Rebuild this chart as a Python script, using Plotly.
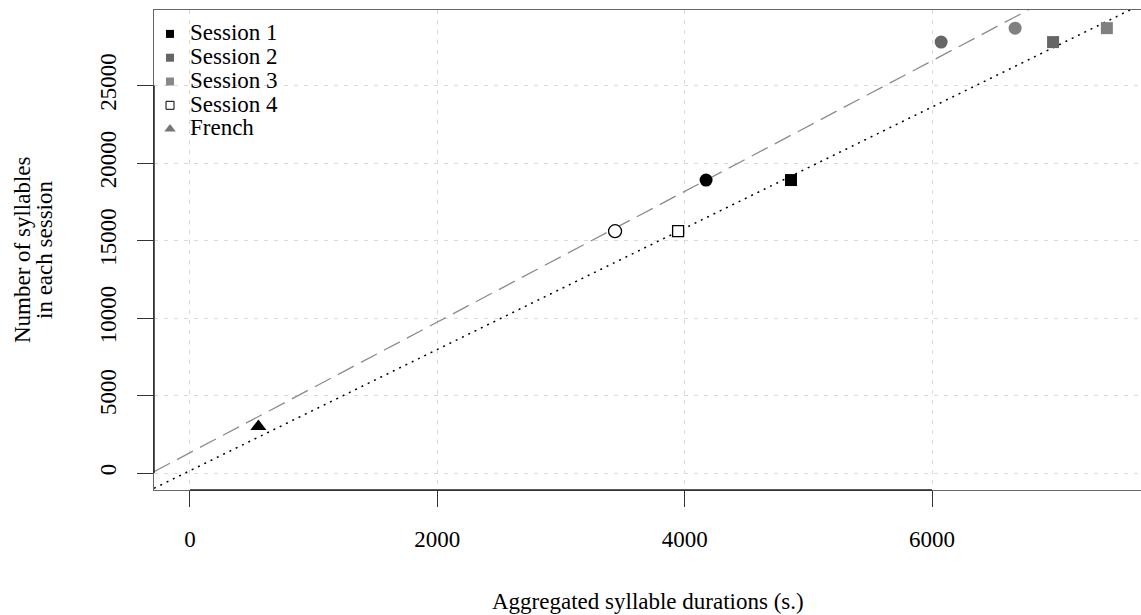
import plotly.graph_objects as go

# ---- data ----
sessions = ["Session 1", "Session 2", "Session 3", "Session 4"]
circle_x = [4173, 6074, 6672, 3437]      # aggregated durations (circles)
square_x = [4860, 6979, 7414, 3947]      # aggregated durations (squares)
syllables = [18900, 27800, 28700, 15600]  # number of syllables per session
french_x = [553]
french_y = [3000]

# fitted lines (intercept, slope)
dashed_fit = (1310, 4.214)
dotted_fit = (150, 3.91)

x_ticks = [0, 2000, 4000, 6000]
y_ticks = [0, 5000, 10000, 15000, 20000, 25000]

x_range = [-291, 7690]
y_range = [-1097, 29871]

# styles
session_fill = ["black", "#666666", "#808080", "white"]
legend_fill = ["black", "#666666", "#888888", "white"]
FONT = "Liberation Serif"

fig = go.Figure()

# fit lines
for (a, b), col, dash, w in [(dashed_fit, "#8c8c8c", "18px,8px", 1.3),
                             (dotted_fit, "black", "2px,5px", 1.5)]:
    fig.add_trace(go.Scatter(
        x=x_range, y=[a + b * x_range[0], a + b * x_range[1]],
        mode="lines", line=dict(color=col, width=w, dash=dash),
        showlegend=False, hoverinfo="skip"))

# data points
for i, s in enumerate(sessions):
    open_marker = session_fill[i] == "white"
    mline = dict(color="black", width=1.3 if open_marker else 0)
    fig.add_trace(go.Scatter(
        x=[circle_x[i]], y=[syllables[i]], mode="markers",
        marker=dict(symbol="circle", size=13, color=session_fill[i], line=mline),
        showlegend=False, name=s))
    fig.add_trace(go.Scatter(
        x=[square_x[i]], y=[syllables[i]], mode="markers",
        marker=dict(symbol="square", size=11 if open_marker else 12,
                    color=session_fill[i], line=mline),
        showlegend=False, name=s))

fig.add_trace(go.Scatter(
    x=french_x, y=french_y, mode="markers",
    marker=dict(symbol="triangle-up", size=14, color="black", line=dict(width=0)),
    showlegend=False, name="French"))

# legend entries
for i, s in enumerate(sessions):
    open_marker = legend_fill[i] == "white"
    fig.add_trace(go.Scatter(
        x=[None], y=[None], mode="markers",
        name=f'<span style="font-size:23px">{s}</span>',
        marker=dict(symbol="square", size=8, color=legend_fill[i],
                    line=dict(color="black", width=1 if open_marker else 0))))
fig.add_trace(go.Scatter(
    x=[None], y=[None], mode="markers",
    name='<span style="font-size:23px">French</span>',
    marker=dict(symbol="triangle-up", size=10, color="#777777", line=dict(width=0))))

axis_common = dict(
    showline=True, mirror=True, linecolor="#666666", linewidth=1.3,
    ticks="outside", ticklen=16, tickcolor="#333333", tickwidth=1.3,
    showgrid=True, gridcolor="#d9d9d9", griddash="4px,6px", gridwidth=1,
    zeroline=False, tickfont=dict(family=FONT, size=23, color="black"),
)

fig.update_layout(
    width=1141, height=615,
    margin=dict(l=154, r=0, t=10, b=125),
    plot_bgcolor="white", paper_bgcolor="white",
    font=dict(family=FONT, size=23, color="black"),
    xaxis=dict(range=x_range, tickvals=x_ticks, ticktext=[str(v) for v in x_ticks],
               ticklabelstandoff=12, **axis_common),
    yaxis=dict(range=y_range, tickvals=y_ticks, ticktext=[str(v) for v in y_ticks],
               tickangle=-90, ticklabelstandoff=12, **axis_common),
    legend=dict(x=-4 / 987, y=1 - 7 / 480, xanchor="left", yanchor="top",
                bgcolor="rgba(0,0,0,0)", borderwidth=0,
                font=dict(family=FONT, size=16, color="black"),
                tracegroupgap=0, itemwidth=30),
    shapes=[
        dict(type="line", xref="x", yref="paper", x0=x_ticks[0], x1=x_ticks[-1],
             y0=0, y1=0, line=dict(color="#222222", width=1.5)),
        dict(type="line", xref="paper", yref="y", x0=0, x1=0,
             y0=y_ticks[0], y1=y_ticks[-1], line=dict(color="#222222", width=1.5)),
    ],
    annotations=[
        dict(text="Aggregated syllable durations (s.)", xref="paper", yref="paper",
             x=0.5, y=-0.233, xanchor="center", yanchor="middle", showarrow=False,
             font=dict(family=FONT, size=23)),
        dict(text="Number of syllables", xref="paper", yref="paper",
             x=(22 - 154) / 987, y=0.5, xanchor="center", yanchor="middle",
             textangle=-90, showarrow=False, font=dict(family=FONT, size=23)),
        dict(text="in each session", xref="paper", yref="paper",
             x=(44 - 154) / 987, y=0.5, xanchor="center", yanchor="middle",
             textangle=-90, showarrow=False, font=dict(family=FONT, size=23)),
    ],
)

fig.write_html("out.html")
